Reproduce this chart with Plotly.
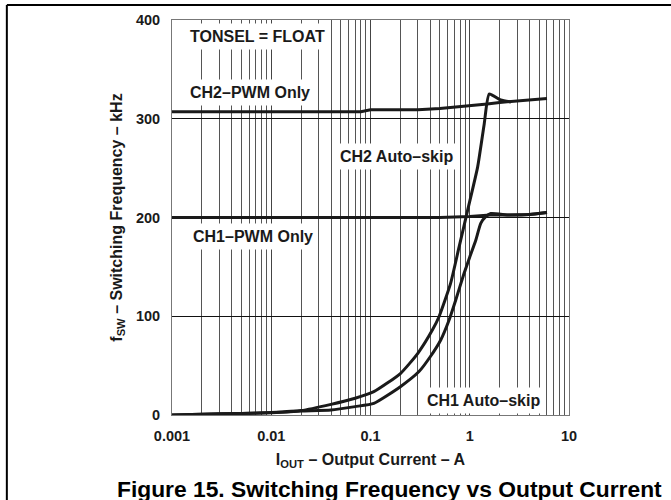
import math
import plotly.graph_objects as go

# ---- data ----
ch2_pwm_i = [0.001, 0.08, 0.1, 0.3, 0.5, 1.0, 1.5, 2.0, 3.0, 6.0]
ch2_pwm_f = [307, 307, 309, 309, 310.5, 313, 315, 316.5, 318, 320.5]

ch1_pwm_i = [0.001, 0.5, 1.0, 1.6, 2.5, 4.0, 6.0]
ch1_pwm_f = [200, 200, 201, 202.5, 202.5, 203, 205]

ch2_skip_i = [0.001, 0.002, 0.005, 0.01, 0.02, 0.04, 0.07, 0.108, 0.2, 0.3, 0.42, 0.49,
              0.64, 0.78, 0.95, 1.2, 1.4, 1.57, 2.05, 2.6]
ch2_skip_f = [0, 0.8, 1.5, 2.5, 4.5, 10.8, 17, 23.6, 42, 62.5, 86, 99.5,
              133, 170, 207, 251, 295, 325, 319, 317]

ch1_skip_i = [0.001, 0.002, 0.005, 0.01, 0.02, 0.04, 0.07, 0.108, 0.2, 0.308, 0.4, 0.51,
              0.618, 0.72, 0.877, 1.0, 1.15, 1.29, 1.45, 1.63, 2.5, 4.0, 6.0]
ch1_skip_f = [0, 0.8, 1.5, 2.3, 4, 5, 8.5, 11.8, 28.7, 44, 59, 76,
              96, 116, 143.5, 160, 177, 194, 200.8, 204, 202.5, 203, 205]

x_ticks = [0.001, 0.01, 0.1, 1, 10]
x_ticktext = ["0.001", "0.01", "0.1", "1", "10"]
y_ticks = [0, 100, 200, 300, 400]
minor_mult = [2, 3, 4, 5, 6, 7, 8, 9]

labels = ["TONSEL = FLOAT", "CH2–PWM Only", "CH2 Auto–skip", "CH1–PWM Only", "CH1 Auto–skip"]
label_x = [0.00135, 0.00135, 0.0443, 0.00145, 0.327]   # left edge of label box, A
label_y = [383, 327, 262, 181, 15]                      # label centre, kHz

FONT = "Liberation Sans, Arial, sans-serif"
INK = "#1a1a1a"

fig = go.Figure()
for xs, ys, shape in [(ch2_pwm_i, ch2_pwm_f, "linear"), (ch1_pwm_i, ch1_pwm_f, "linear"),
                      (ch2_skip_i, ch2_skip_f, "spline"), (ch1_skip_i, ch1_skip_f, "spline")]:
    fig.add_trace(go.Scatter(x=xs, y=ys, mode="lines",
                             line=dict(color=INK, width=3, shape=shape, smoothing=0.5),
                             showlegend=False, hoverinfo="skip"))

minor_vals = [m * d for d in [0.001, 0.01, 0.1, 1] for m in minor_mult]

fig.update_xaxes(
    type="log", range=[-3, 1],
    tickvals=x_ticks, ticktext=x_ticktext,
    showgrid=True, gridcolor="#444", gridwidth=1,
    minor=dict(tickvals=minor_vals, showgrid=True, gridcolor="#555", gridwidth=1, ticks=""),
    showline=True, linecolor="#777", linewidth=1, mirror=True,
    ticks="", ticklabelstandoff=8,
    tickfont=dict(family=FONT, size=14.5, color=INK, weight="bold"),
    title=dict(text="I<sub>OUT</sub> – Output Current – A",
               font=dict(family=FONT, size=16, color=INK, weight="bold"), standoff=10),
    zeroline=False,
)
fig.update_yaxes(
    range=[0, 400], tickvals=y_ticks,
    showgrid=True, gridcolor="#111", gridwidth=1,
    showline=True, linecolor="#777", linewidth=1, mirror=True,
    ticks="", ticklabelstandoff=8,
    tickfont=dict(family=FONT, size=14.5, color=INK, weight="bold"),
    title=dict(text="f<sub>SW</sub> – Switching Frequency – kHz",
               font=dict(family=FONT, size=16, color=INK, weight="bold"), standoff=9),
    zeroline=False,
)

for t, x, y in zip(labels, label_x, label_y):
    fig.add_annotation(x=math.log10(x), y=y, xref="x", yref="y", text=t, showarrow=False,
                       xanchor="left", yanchor="middle",
                       bgcolor="white", borderpad=4,
                       font=dict(family=FONT, size=16, color=INK, weight="bold"))

fig.add_annotation(x=0.549, y=-0.15, xref="paper", yref="paper", yanchor="top",
                   text="Figure 15. Switching Frequency vs Output Current",
                   showarrow=False,
                   font=dict(family=FONT, size=22.8, color="black", weight="bold"))

# outer frame (top and left edges)
fig.add_shape(type="line", xref="paper", yref="paper",
              x0=-0.416, x1=1.26, y0=1.038, y1=1.038, line=dict(color="black", width=2))
fig.add_shape(type="line", xref="paper", yref="paper",
              x0=-0.416, x1=-0.416, y0=1.038, y1=-0.3, line=dict(color="black", width=2))

fig.update_layout(
    width=671, height=500,
    margin=dict(l=172, r=102, t=20, b=85),
    paper_bgcolor="white", plot_bgcolor="white",
    font=dict(family=FONT, color=INK),
)

fig.write_html("out.html")
